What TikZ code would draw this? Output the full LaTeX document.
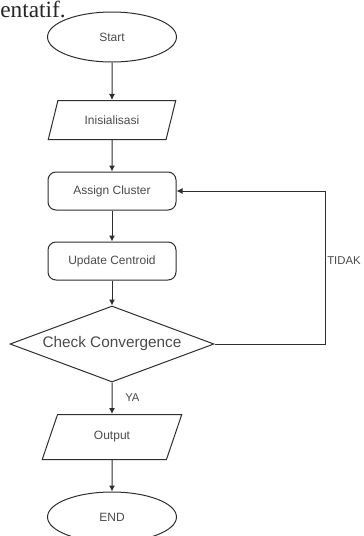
\documentclass[tikz,border=0pt]{standalone}
\usepackage{fontspec}
\setmainfont{Liberation Sans}
\newfontfamily\pageserif{Liberation Serif}
\usepackage{tikz}
\usetikzlibrary{shapes.geometric,arrows.meta}
\definecolor{lineclr}{HTML}{2E2E2E}
\definecolor{textclr}{HTML}{4A4A4A}

\begin{document}
\begin{tikzpicture}[x=0.75pt,y=-0.75pt,
  box/.style={draw=lineclr,line width=0.75pt,text=textclr,font=\fontsize{9}{11}\selectfont},
  terminal/.style={box,ellipse,minimum width=96.75pt,minimum height=37.5pt,inner sep=0pt},
  inout/.style={box,trapezium,trapezium stretches=true,inner sep=0pt},
  process/.style={box,rectangle,rounded corners=6pt,minimum width=96pt,minimum height=28.5pt},
  decision/.style={box,diamond,aspect=2.7,minimum width=153pt,minimum height=57pt,inner sep=0pt,font=\fontsize{11.5}{13}\selectfont},
  flow/.style={draw=lineclr,line width=0.75pt,-{Latex[length=4.5pt,width=4.5pt]}},
  note/.style={text=textclr,font=\fontsize{8.5}{10}\selectfont,inner sep=0pt,anchor=west}]
\useasboundingbox (0,0) rectangle (364,536);
\clip (0,0) rectangle (364,536);
\node[anchor=base west,inner sep=0pt,text=black!85,font=\pageserif\fontsize{17.5}{20}\selectfont] (tail) at (0,17) {entatif.};
\node[terminal] (start) at (112,37) {Start};
\node[inout,trapezium left angle=61,trapezium right angle=119,minimum width=96pt,minimum height=29.25pt] (init) at (112,120) {Inisialisasi};
\node[process] (assign) at (112,191) {Assign Cluster};
\node[process] (update) at (112,261) {Update Centroid};
\node[decision] (check) at (112,344) {Check Convergence};
\node[inout,trapezium left angle=65,trapezium right angle=115,minimum width=105pt,minimum height=33.75pt] (output) at (112,437) {Output};
\node[terminal] (end) at (112,517) {END};
\coordinate (loop) at (325,344);
\draw[flow] (start) -- (init);
\draw[flow] (init) -- (assign);
\draw[flow] (assign) -- (update);
\draw[flow] (update) -- (check);
\draw[flow] (check) -- (output);
\draw[flow] (output) -- (end);
\draw[flow] (check.east) -- (loop) |- (assign.east);
\node[note] (tidak) at (327,261) {TIDAK};
\node[note] (ya) at (125,398) {YA};
\end{tikzpicture}
\end{document}
